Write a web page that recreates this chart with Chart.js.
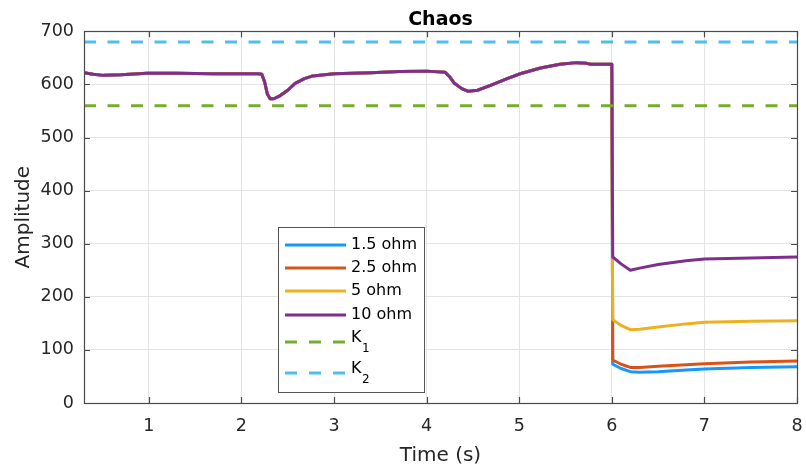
<!DOCTYPE html>
<html>
<head>
<meta charset="utf-8">
<script src="https://cdn.jsdelivr.net/npm/chart.js@4/dist/chart.umd.min.js"></script>
<style>
  html, body { margin: 0; padding: 0; background: #ffffff; }
  #wrap { width: 806px; height: 474px; position: relative; }
</style>
</head>
<body>
<div id="wrap"><canvas id="c" width="806" height="474"></canvas></div>
<script>
// ---------------- DATA ----------------
// Shared trace before t = 6 s (all loads identical)
const timeBefore = [0.3, 0.4, 0.51, 0.7, 0.98, 1.3, 1.69, 2.0, 2.18, 2.22, 2.25, 2.28, 2.31, 2.35, 2.42, 2.5, 2.58, 2.68, 2.77, 3.0, 3.4, 3.71, 4.0, 4.2, 4.25, 4.3, 4.38, 4.45, 4.55, 4.69, 4.87, 5.01, 5.23, 5.44, 5.62, 5.72, 5.77, 6.0];
const ampBefore  = [622, 619, 617, 618, 621, 621, 620, 620, 620, 619, 605, 582, 573, 573, 579, 589, 602, 611, 616, 620, 622, 624.5, 625, 623, 614, 602, 592, 587, 589, 598, 611, 620, 631, 638, 641, 640, 638, 638];

// After the switching instant at t = 6 s
const timeAfter = [6.01, 6.1, 6.2, 6.3, 6.5, 6.8, 7.0, 7.5, 8.0];
const amp1p5ohm = [73, 65, 59, 58, 59, 62, 64, 67, 68.5];
const amp2p5ohm = [81, 73, 67, 67, 69, 72, 74, 77, 79];
const amp5ohm   = [157, 146, 138, 139, 143, 149, 152, 154, 155];
const amp10ohm  = [275, 262, 250, 254, 261, 268, 271, 273, 275];

// Threshold lines
const thresholdTime = [0.3, 8];
const K1 = [560, 560];
const K2 = [680, 680];

const seriesLabels = ['1.5 ohm', '2.5 ohm', '5 ohm', '10 ohm', 'K\u2081', 'K\u2082'];
const xTickValues = [1, 2, 3, 4, 5, 6, 7, 8];
const yTickValues = [0, 100, 200, 300, 400, 500, 600, 700];

// ---------------- BUILD ----------------
function pts(xs, ys) { return xs.map((x, i) => ({ x: x, y: ys[i] })); }
function trace(after) { return pts(timeBefore, ampBefore).concat(pts(timeAfter, after)); }

const colors = ['#1697ff', '#D95319', '#EDB120', '#7E2F8E', '#77AC30', '#4DBEEE'];
const FONT = "'DejaVu Sans', sans-serif";
const TXT = '#262626';

const datasets = [
  { label: seriesLabels[0], data: trace(amp1p5ohm), borderColor: colors[0], order: 5 },
  { label: seriesLabels[1], data: trace(amp2p5ohm), borderColor: colors[1], order: 4 },
  { label: seriesLabels[2], data: trace(amp5ohm),   borderColor: colors[2], order: 3 },
  { label: seriesLabels[3], data: trace(amp10ohm),  borderColor: colors[3], order: 2 },
  { label: seriesLabels[4], data: pts(thresholdTime, K1), borderColor: colors[4], borderDash: [12, 11.5], order: 1 },
  { label: seriesLabels[5], data: pts(thresholdTime, K2), borderColor: colors[5], borderDash: [12, 11.5], order: 0 }
].map(d => Object.assign({ borderWidth: 3, pointRadius: 0, tension: 0, fill: false, borderCapStyle: 'butt', borderJoinStyle: 'round' }, d));

// Box, inward ticks and in-axes legend (MATLAB style)
const matlabDecor = {
  id: 'matlabDecor',
  afterDraw(chart) {
    const ctx = chart.ctx;
    const a = chart.chartArea;
    const xs = chart.scales.x, ys = chart.scales.y;
    ctx.save();
    ctx.strokeStyle = '#4a4a4a';
    ctx.lineWidth = 1.2;
    ctx.beginPath();
    const L = 6;
    xs.ticks.forEach(t => {
      const px = Math.round(xs.getPixelForValue(t.value)) + 0.5;
      ctx.moveTo(px, a.bottom); ctx.lineTo(px, a.bottom - L);
      ctx.moveTo(px, a.top); ctx.lineTo(px, a.top + L);
    });
    ys.ticks.forEach(t => {
      const py = Math.round(ys.getPixelForValue(t.value)) + 0.5;
      ctx.moveTo(a.left, py); ctx.lineTo(a.left + L, py);
      ctx.moveTo(a.right, py); ctx.lineTo(a.right - L, py);
    });
    ctx.stroke();
    ctx.strokeRect(Math.round(a.left) + 0.5, Math.round(a.top) + 0.5, Math.round(a.right - a.left), Math.round(a.bottom - a.top));

    // Legend
    const bx = 278.5, by = 227.5, bw = 146, bh = 165;
    ctx.fillStyle = '#ffffff';
    ctx.fillRect(bx, by, bw, bh);
    ctx.strokeStyle = '#555555';
    ctx.lineWidth = 1;
    ctx.strokeRect(bx, by, bw, bh);
    const rowY = [245, 268, 291, 315, 342, 373];
    const subs = { '\u2080': '0', '\u2081': '1', '\u2082': '2', '\u2083': '3' };
    chart.data.datasets.forEach((d, i) => {
      const y = rowY[i];
      ctx.save();
      ctx.strokeStyle = d.borderColor;
      ctx.lineWidth = 3;
      ctx.setLineDash(d.borderDash ? [12, 12] : []);
      ctx.beginPath();
      ctx.moveTo(285, y); ctx.lineTo(346, y);
      ctx.stroke();
      ctx.restore();
      ctx.fillStyle = '#000000';
      ctx.textAlign = 'left';
      ctx.textBaseline = 'middle';
      const lab = d.label;
      const last = lab.charAt(lab.length - 1);
      if (subs[last] !== undefined) {
        const base = lab.slice(0, -1);
        ctx.font = '16px ' + FONT;
        ctx.fillText(base, 351, y - 4);
        const w = ctx.measureText(base).width;
        ctx.font = '12px ' + FONT;
        ctx.fillText(subs[last], 351 + w + 0.5, y + 7);
      } else {
        ctx.font = '16px ' + FONT;
        ctx.fillText(lab, 351, y);
      }
    });
    ctx.restore();
  }
};

new Chart(document.getElementById('c'), {
  type: 'line',
  data: { datasets: datasets },
  plugins: [matlabDecor],
  options: {
    responsive: false,
    animation: false,
    devicePixelRatio: 1,
    layout: { padding: { top: 0, right: 9, bottom: 0, left: 0 } },
    plugins: {
      legend: { display: false },
      tooltip: { enabled: false },
      title: {
        display: true,
        fullSize: false,
        text: 'Chaos',
        color: '#000000',
        font: { family: FONT, size: 19, weight: 'bold' },
        padding: { top: 8.5, bottom: 0 }
      }
    },
    scales: {
      x: {
        type: 'linear',
        min: 0.3,
        max: 8,
        afterBuildTicks: s => { s.ticks = xTickValues.map(v => ({ value: v })); },
        afterFit: s => { s.height = 71; s.paddingLeft = 0; s.paddingRight = 0; },
        ticks: {
          color: TXT,
          font: { family: FONT, size: 17.5 },
          padding: 13,
          maxRotation: 0,
          autoSkip: false,
          callback: v => String(v)
        },
        grid: { color: '#e3e3e3', lineWidth: 1, drawTicks: false },
        border: { display: false },
        title: {
          display: true,
          text: 'Time (s)',
          color: TXT,
          font: { family: FONT, size: 20 },
          padding: { top: 0, bottom: 6.5 }
        }
      },
      y: {
        type: 'linear',
        min: 0,
        max: 700,
        afterBuildTicks: s => { s.ticks = yTickValues.map(v => ({ value: v })); },
        afterFit: s => { s.width = 84; s.paddingTop = 0; s.paddingBottom = 0; },
        ticks: {
          color: TXT,
          font: { family: FONT, size: 17.5 },
          padding: 10,
          autoSkip: false,
          callback: v => String(v)
        },
        grid: { color: '#e3e3e3', lineWidth: 1, drawTicks: false },
        border: { display: false },
        title: {
          display: true,
          text: 'Amplitude',
          color: TXT,
          font: { family: FONT, size: 20 },
          padding: { top: 11.5, bottom: 0 }
        }
      }
    }
  }
});
</script>
</body>
</html>
